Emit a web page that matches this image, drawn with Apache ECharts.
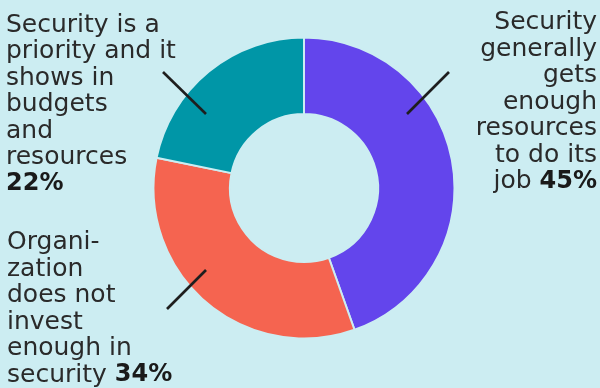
<!DOCTYPE html>
<html><head><meta charset="utf-8">
<script src="https://cdn.jsdelivr.net/npm/echarts@6/dist/echarts.min.js"></script>
<style>html,body{margin:0;padding:0;background:#CCEDF2}#c{width:600px;height:388px}</style>
</head><body><div id="c"></div>
<script>
// Data
const categories = [
  "Security\ngenerally\ngets\nenough\nresources\nto do its\njob",
  "Organi-\nzation\ndoes not\ninvest\nenough in\nsecurity",
  "Security is a\npriority and it\nshows in\nbudgets\nand\nresources"
];
const values = [45, 34, 22];
const pctSeparators = [" ", " ", "\n"];

// Styles
const colors = ["#6345EC", "#F56450", "#0096A7"];
const BG = "#CCEDF2";
const CX = 304, CY = 188;
const labelPos = [
  { x: 597, y: 9.5, align: "right" },
  { x: 7, y: 229.5, align: "left" },
  { x: 6, y: 12, align: "left" }
];
const leaders = [
  [[103, -74], [145, -116]],
  [[-98, 82], [-137, 121]],
  [[-141, -116], [-98, -74]]
];

const chart = echarts.init(document.getElementById("c"), null, { renderer: "canvas" });
chart.setOption({
  backgroundColor: BG,
  animation: false,
  series: [{
    type: "pie",
    center: [CX, CY],
    radius: [74, 150.5],
    startAngle: 90,
    clockwise: true,
    avoidLabelOverlap: false,
    emphasis: { disabled: true },
    itemStyle: { borderColor: BG, borderWidth: 2 },
    labelLine: { show: false },
    label: {
      show: true,
      position: "outside",
      fontFamily: "DejaVu Sans",
      fontSize: 25,
      lineHeight: 26.5,
      color: "#2a2a2a",
      formatter: p => p.name + pctSeparators[p.dataIndex] + "{b|" + p.value + "%}",
      rich: {
        b: { fontFamily: "DejaVu Sans", fontWeight: "bold", fontSize: 24, lineHeight: 26.5, color: "#1a1a1a" }
      }
    },
    labelLayout: p => Object.assign({ verticalAlign: "top", hideOverlap: false }, labelPos[p.dataIndex]),
    data: categories.map((c, i) => ({ name: c, value: values[i], itemStyle: { color: colors[i] } }))
  }],
  graphic: leaders.map(l => ({
    type: "line",
    silent: true,
    z: 100,
    shape: { x1: CX + l[0][0], y1: CY + l[0][1], x2: CX + l[1][0], y2: CY + l[1][1] },
    style: { stroke: "#1e1e1e", lineWidth: 2.6 }
  }))
});
</script></body></html>
